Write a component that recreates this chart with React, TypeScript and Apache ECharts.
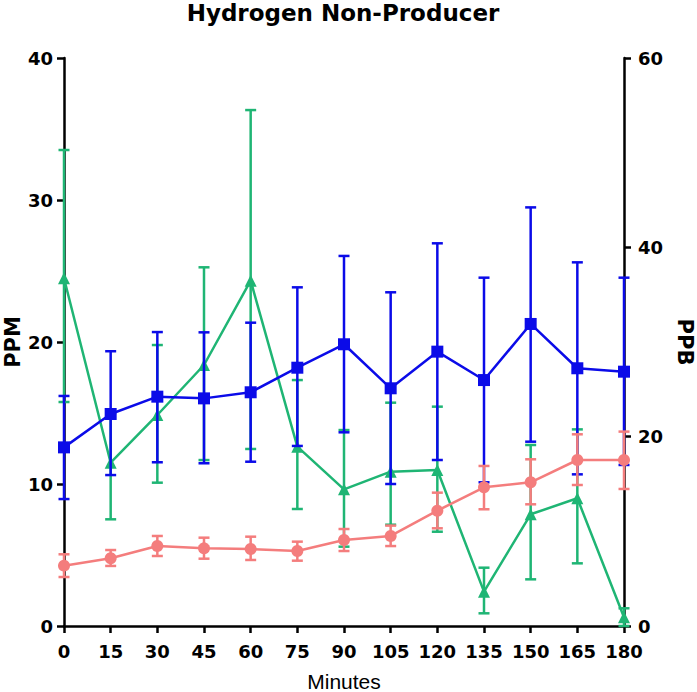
import React, { useEffect, useRef } from "react";
import * as echarts from "echarts";

const minutes = [0, 15, 30, 45, 60, 75, 90, 105, 120, 135, 150, 165, 180];

// Blue (PPM, left axis)
const blueMean = [12.58, 14.93, 16.15, 16.03, 16.46, 18.19, 19.84, 16.74, 19.32, 17.32, 21.27, 18.15, 17.91];
const blueHigh = [16.2, 19.35, 20.7, 20.68, 21.36, 23.85, 26.06, 23.5, 26.95, 24.53, 29.48, 25.61, 24.53];
const blueLow = [8.94, 10.63, 11.53, 11.46, 11.57, 12.68, 13.64, 10.0, 11.69, 10.12, 12.98, 10.68, 11.34];

// Pink (PPM, left axis)
const pinkMean = [4.25, 4.77, 5.63, 5.47, 5.42, 5.28, 6.06, 6.34, 8.12, 9.77, 10.12, 11.69, 11.69];
const pinkHigh = [5.05, 5.35, 6.34, 6.22, 6.29, 5.94, 6.83, 7.07, 9.39, 11.27, 11.74, 13.5, 13.69];
const pinkLow = [3.45, 4.23, 4.93, 4.74, 4.65, 4.6, 5.28, 5.63, 6.88, 8.22, 8.57, 9.93, 9.65];

// Green (PPB, right axis)
const greenMean = [36.73, 17.25, 22.29, 27.57, 36.48, 18.94, 14.44, 16.3, 16.48, 3.63, 11.8, 13.49, 0.92];
const greenHigh = [50.28, 22.47, 29.68, 37.89, 54.5, 25.98, 20.7, 23.59, 23.17, 6.16, 19.12, 20.77, 1.87];
const greenLow = [23.66, 11.27, 15.14, 17.53, 18.7, 12.36, 8.38, 10.7, 9.96, 1.34, 4.93, 6.62, 0];

const leftTicks = [0, 10, 20, 30, 40];
const rightTicks = [0, 20, 40, 60];

const BLUE = "#0b0be8";
const PINK = "#f47d7d";
const GREEN = "#1fb574";
const BOLD_FONT = "'DejaVu Sans', 'Liberation Sans', Arial, sans-serif";
const FONT = "'Liberation Sans', Arial, sans-serif";

function errSeries(name: string, color: string, low: number[], high: number[], yAxisIndex: number, z: number) {
  const data = minutes.map((m, i) => [m, low[i], high[i]]);
  return {
    name,
    type: "custom",
    yAxisIndex,
    z,
    clip: false,
    encode: { x: 0, y: [1, 2] },
    data,
    renderItem: (params: any, api: any) => {
      const x = api.value(0);
      const lo = api.coord([x, api.value(1)]);
      const hi = api.coord([x, api.value(2)]);
      const hw = 5.5;
      const style = { stroke: color, lineWidth: 2.5 };
      return {
        type: "group",
        children: [
          { type: "line", shape: { x1: lo[0], y1: lo[1], x2: hi[0], y2: hi[1] }, style },
          { type: "line", shape: { x1: lo[0] - hw, y1: lo[1], x2: lo[0] + hw, y2: lo[1] }, style },
          { type: "line", shape: { x1: hi[0] - hw, y1: hi[1], x2: hi[0] + hw, y2: hi[1] }, style },
        ],
      };
    },
  };
}

function lineSeries(name: string, color: string, mean: number[], symbol: string, size: number, yAxisIndex: number, z: number) {
  return {
    name,
    type: "line",
    yAxisIndex,
    z,
    clip: false,
    data: minutes.map((m, i) => [m, mean[i]]),
    symbol,
    symbolSize: size,
    showSymbol: true,
    lineStyle: { color, width: 2.5 },
    itemStyle: { color, borderWidth: 0 },
  };
}

export default function App() {
  const ref = useRef<HTMLDivElement>(null);
  useEffect(() => {
    if (!ref.current) return;
    const chart = echarts.init(ref.current, null, { renderer: "svg" });
    const axisLabel = { color: "#000", fontWeight: "bold", fontSize: 18, fontFamily: BOLD_FONT };
    const axisLine = { show: true, lineStyle: { color: "#000", width: 2.5 } };
    const axisTick = { show: true, length: 7, lineStyle: { color: "#000", width: 2.5 } };
    chart.setOption({
      animation: false,
      backgroundColor: "#fff",
      title: {
        text: "Hydrogen Non-Producer",
        left: 343,
        textAlign: "center",
        top: 0,
        padding: 0,
        textStyle: { color: "#000", fontWeight: "bold", fontSize: 23, lineHeight: 26, fontFamily: BOLD_FONT },
      },
      grid: { left: 64, right: 73, top: 58, bottom: 66, containLabel: false, outerBoundsMode: "none" },
      xAxis: {
        type: "value",
        min: 0,
        max: 180,
        interval: 15,
        splitLine: { show: false },
        axisLine,
        axisTick,
        axisLabel: { ...axisLabel, margin: 16, customValues: minutes },
        name: "Minutes",
        nameLocation: "middle",
        nameGap: 44,
        nameMoveOverlap: false,
        nameTextStyle: { color: "#000", fontSize: 21, lineHeight: 22, fontFamily: FONT },
      },
      yAxis: [
        {
          type: "value",
          min: 0,
          max: 40,
          interval: 10,
          position: "left",
          splitLine: { show: false },
          axisLine,
          axisTick: { ...axisTick, customValues: leftTicks },
          axisLabel: { ...axisLabel, margin: 11, customValues: leftTicks },
          name: "PPM",
          nameLocation: "middle",
          nameGap: 40,
          nameMoveOverlap: false,
          nameTextStyle: { color: "#000", fontWeight: "bold", fontSize: 21, lineHeight: 22, fontFamily: BOLD_FONT },
        },
        {
          type: "value",
          min: 0,
          max: 60,
          interval: 20,
          position: "right",
          splitLine: { show: false },
          axisLine,
          axisTick: { ...axisTick, customValues: rightTicks },
          axisLabel: { ...axisLabel, margin: 14, customValues: rightTicks },
          name: "PPB",
          nameLocation: "middle",
          nameRotate: -90,
          nameGap: 50,
          nameMoveOverlap: false,
          nameTextStyle: { color: "#000", fontWeight: "bold", fontSize: 21, lineHeight: 22, fontFamily: BOLD_FONT },
        },
      ],
      series: [
        errSeries("greenErr", GREEN, greenLow, greenHigh, 1, 2),
        lineSeries("green", GREEN, greenMean, "triangle", 12, 1, 3),
        errSeries("blueErr", BLUE, blueLow, blueHigh, 0, 4),
        lineSeries("blue", BLUE, blueMean, "rect", 12, 0, 5),
        errSeries("pinkErr", PINK, pinkLow, pinkHigh, 0, 6),
        lineSeries("pink", PINK, pinkMean, "circle", 12, 0, 7),
      ],
    });
    return () => chart.dispose();
  }, []);
  return <div ref={ref} style={{ position: "absolute", left: 0, top: 0, width: 697, height: 692 }} />;
}
